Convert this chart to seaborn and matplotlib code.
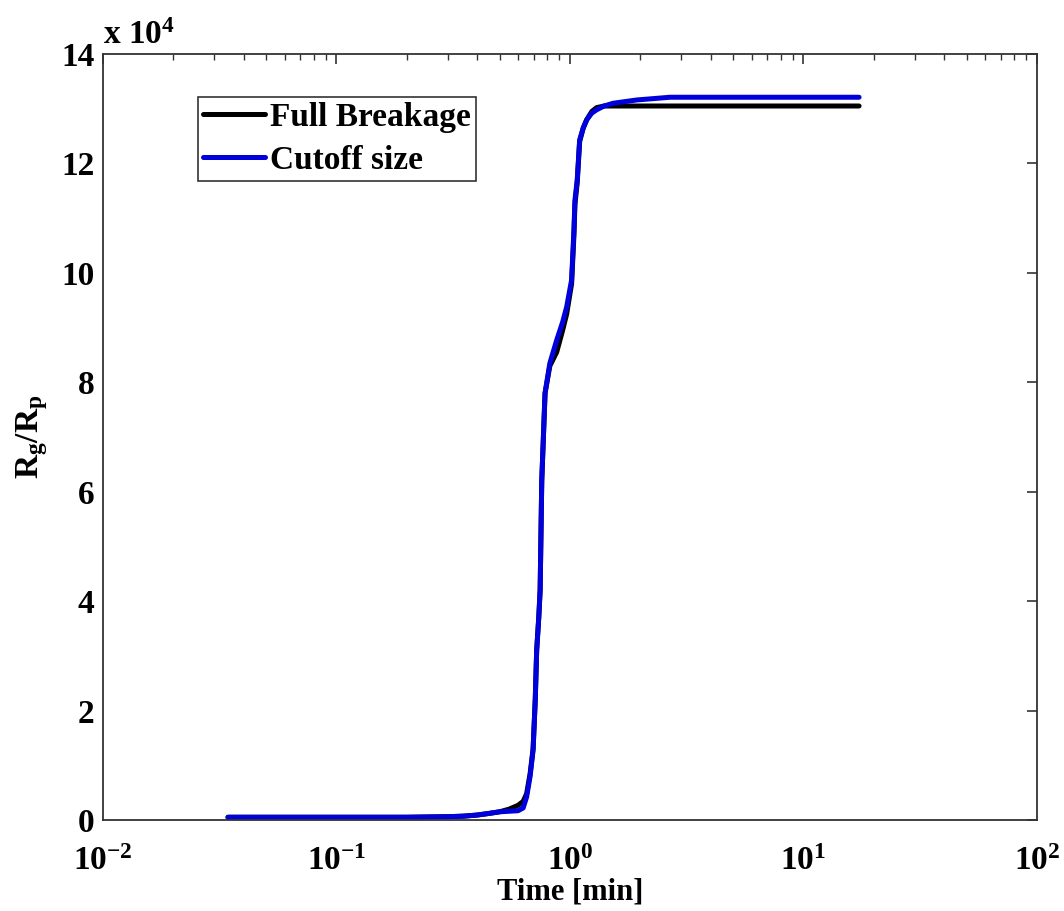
import numpy as np
import pandas as pd
import matplotlib
matplotlib.use("Agg")
import matplotlib.pyplot as plt
import seaborn as sns
from matplotlib.ticker import FixedLocator, FuncFormatter, LogLocator, NullFormatter

# Time in minutes
time_min = [0.0343, 0.06, 0.1, 0.2, 0.3, 0.35, 0.4, 0.45, 0.5, 0.55, 0.6, 0.63, 0.652,
            0.675, 0.695, 0.71, 0.72, 0.735, 0.745, 0.757, 0.782, 0.82, 0.877, 0.93,
            0.968, 1.016, 1.04, 1.05, 1.074, 1.10, 1.14, 1.18, 1.24, 1.30, 1.40, 1.53,
            1.93, 2.68, 5.0, 10.0, 17.3]

# Rg/Rp ratio, full breakage model
full_breakage = [500, 500, 500, 500, 600, 700, 900, 1200, 1500, 2000, 2700, 3400, 4800,
                 8500, 13000, 22000, 31000, 37000, 42000, 62000, 78000, 83000, 85500,
                 89500, 92500, 98000, 107000, 112500, 116500, 124000, 126500, 128000,
                 129500, 130200, 130500, 130500, 130500, 130500, 130500, 130500, 130500]

# Rg/Rp ratio, cutoff size model
cutoff_size = [500, 500, 500, 500, 600, 700, 900, 1200, 1500, 1600, 1700, 2200, 4200,
               8000, 12800, 22000, 31000, 37000, 42000, 62000, 78000, 83500, 87700,
               91000, 93800, 98700, 108000, 113300, 117000, 124300, 126500, 128000,
               129200, 129800, 130500, 131000, 131600, 132100, 132100, 132100, 132100]

series_names = ["Full Breakage", "Cutoff size"]
series_colors = ["#000000", "#0000dd"]

df = pd.DataFrame({
    "time": time_min * 2,
    "ratio": full_breakage + cutoff_size,
    "model": [series_names[0]] * len(time_min) + [series_names[1]] * len(time_min),
})

sns.set_style("white")
plt.rcParams["font.family"] = ["Liberation Serif", "DejaVu Serif"]
plt.rcParams["font.weight"] = "bold"
plt.rcParams["text.color"] = "black"
plt.rcParams["axes.labelcolor"] = "black"
plt.rcParams["xtick.color"] = "black"
plt.rcParams["ytick.color"] = "black"
plt.rcParams["mathtext.fontset"] = "custom"
plt.rcParams["mathtext.rm"] = "Liberation Serif:bold"
plt.rcParams["mathtext.bf"] = "Liberation Serif:bold"
plt.rcParams["mathtext.it"] = "Liberation Serif:bold"
plt.rcParams["mathtext.default"] = "bf"

fig = plt.figure(figsize=(10.64, 9.11), dpi=100)
ax = fig.add_axes([0.0968, 0.0999, 0.8778, 0.8408])

sns.lineplot(data=df, x="time", y="ratio", hue="model", hue_order=series_names,
             palette=series_colors, linewidth=3.6, ax=ax, estimator=None, sort=False)

ax.set_xscale("log")
ax.set_xlim(1e-2, 1e2)
ax.set_ylim(0, 140000)

ax.yaxis.set_major_locator(FixedLocator(np.arange(0, 140001, 20000)))
ax.yaxis.set_major_formatter(FuncFormatter(lambda v, p: f"{v / 1e4:.0f}"))
ax.xaxis.set_major_locator(LogLocator(base=10, numticks=10))
ax.xaxis.set_minor_locator(LogLocator(base=10, subs=np.arange(2, 10), numticks=50))
ax.xaxis.set_minor_formatter(NullFormatter())
ax.xaxis.set_major_formatter(FuncFormatter(lambda v, p: r"$\mathbf{10^{%d}}$" % round(np.log10(v))))

ax.tick_params(axis="both", which="both", direction="in", top=True, right=True,
               labelsize=24, color="#333333", labelcolor="black")
ax.tick_params(axis="both", which="major", length=7, width=1.2)
ax.tick_params(axis="x", which="major", pad=19)
ax.tick_params(axis="y", which="major", pad=6)
ax.tick_params(axis="x", which="minor", length=4, width=1.0)
for lab in ax.get_xticklabels() + ax.get_yticklabels():
    lab.set_fontweight("bold")

for sp in ax.spines.values():
    sp.set_color("#333333")
    sp.set_linewidth(1.3)

ax.text(0.0, 1.004, r"x 10$^{4}$", transform=ax.transAxes, ha="left", va="bottom",
        fontsize=24, fontweight="bold", color="black")

ax.set_xlabel("Time [min]", fontsize=22, fontweight="bold", labelpad=0)
ax.set_ylabel(r"$\mathbf{R_g/R_p}$", fontsize=24, labelpad=8)

leg = ax.legend(loc="upper left", bbox_to_anchor=(0.102, 0.944), borderaxespad=0,
                fancybox=False, framealpha=1, edgecolor="#333333", fontsize=24,
                handlelength=1.85, handletextpad=0.15, borderpad=0.15, labelspacing=0.36,
                title=None)
leg.get_frame().set_linewidth(1.2)
for t in leg.get_texts():
    t.set_fontweight("bold")
    t.set_color("black")
for h in leg.get_lines():
    h.set_linewidth(3.6)

fig.savefig("out.png", dpi=100, facecolor="white")
